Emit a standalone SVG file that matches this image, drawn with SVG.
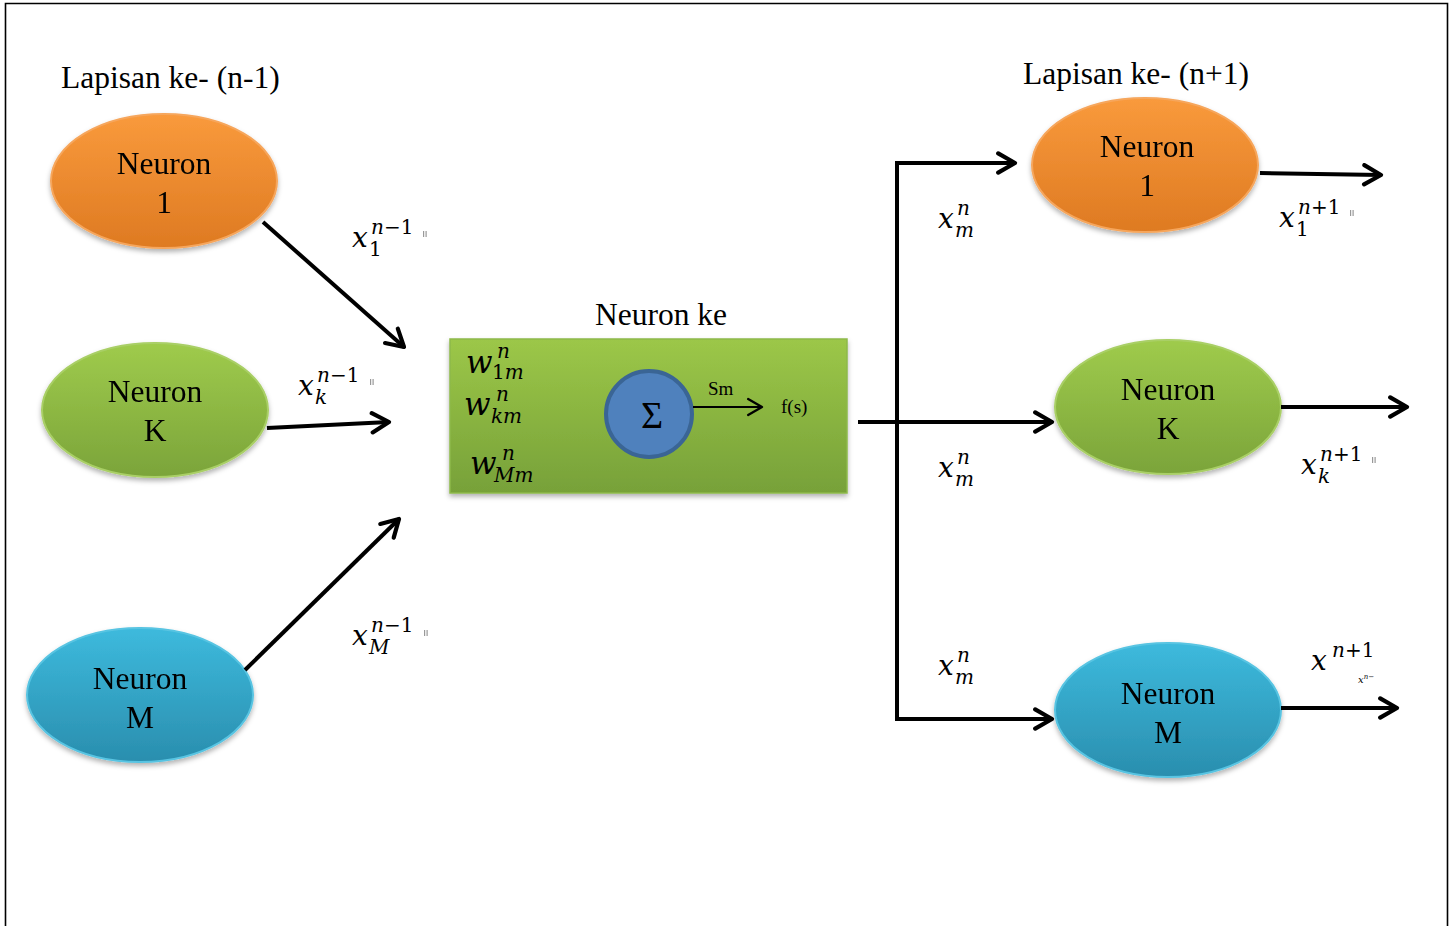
<svg xmlns="http://www.w3.org/2000/svg" width="1455" height="926" viewBox="0 0 1455 926">
  <style>
    .lbl { font-family: "Liberation Serif", "Times New Roman", serif; font-size: 31.5px; fill: #000; }
    .nt { font-family: "Liberation Serif", "Times New Roman", serif; font-size: 31.5px; fill: #000; text-anchor: middle; }
    .sm { font-family: "Liberation Serif", "Times New Roman", serif; font-size: 19px; fill: #000; }
    .m { font-family: "DejaVu Serif", "Liberation Serif", serif; font-style: italic; fill: #000; }
    .up { font-style: normal; }
    .wire { fill: none; stroke: #000; stroke-width: 4; }
    .thin { fill: none; stroke: #000; stroke-width: 2.2; }
    .tick { fill: #999; }
  </style>
  <defs>
    <linearGradient id="gOrange" x1="0" y1="0" x2="0" y2="1">
      <stop offset="0" stop-color="#F99A3C"/>
      <stop offset="1" stop-color="#DE7A22"/>
    </linearGradient>
    <linearGradient id="gGreen" x1="0" y1="0" x2="0" y2="1">
      <stop offset="0" stop-color="#9FCB4C"/>
      <stop offset="1" stop-color="#7BA43A"/>
    </linearGradient>
    <linearGradient id="gBlue" x1="0" y1="0" x2="0" y2="1">
      <stop offset="0" stop-color="#3DBADD"/>
      <stop offset="1" stop-color="#2A8EAE"/>
    </linearGradient>
    <linearGradient id="gBox" x1="0" y1="0" x2="0" y2="1">
      <stop offset="0" stop-color="#9CC748"/>
      <stop offset="1" stop-color="#77A139"/>
    </linearGradient>
    <filter id="shadow" x="-10%" y="-10%" width="120%" height="130%">
      <feDropShadow dx="0" dy="3" stdDeviation="2.5" flood-color="#000" flood-opacity="0.3"/>
    </filter>
    <marker id="arr" viewBox="0 0 20 20" refX="17" refY="10" markerWidth="6" markerHeight="6" markerUnits="strokeWidth" orient="auto">
      <path d="M3,2 L17,10 L3,18" fill="none" stroke="#000" stroke-width="3.5" stroke-linecap="round" stroke-linejoin="round"/>
    </marker>
    <marker id="arrThin" viewBox="0 0 20 20" refX="17" refY="10" markerWidth="9" markerHeight="9" markerUnits="strokeWidth" orient="auto">
      <path d="M3,2 L17,10 L3,18" fill="none" stroke="#000" stroke-width="2.4" stroke-linecap="round" stroke-linejoin="round"/>
    </marker>
  </defs>

  <rect width="1455" height="926" fill="#fff"/>
  <!-- page frame -->
  <path d="M5.5,926 V3.5 H1447.5 V926" fill="none" stroke="#000" stroke-width="1.6"/>

  <!-- layer captions -->
  <text class="lbl" x="61" y="88">Lapisan ke- (n-1)</text>
  <text class="lbl" x="1023" y="84">Lapisan ke- (n+1)</text>

  <!-- previous layer -->
  <g id="prev-neuron-1" filter="url(#shadow)">
    <ellipse cx="164" cy="181" rx="113" ry="67" fill="url(#gOrange)" stroke="#F6A65C" stroke-width="2"/>
    <text class="nt" x="164" y="174">Neuron</text>
    <text class="nt" x="164" y="213">1</text>
  </g>
  <g id="prev-neuron-k" filter="url(#shadow)">
    <ellipse cx="155" cy="410" rx="113" ry="67" fill="url(#gGreen)" stroke="#A9CF66" stroke-width="2"/>
    <text class="nt" x="155" y="402">Neuron</text>
    <text class="nt" x="155" y="441">K</text>
  </g>
  <g id="prev-neuron-m" filter="url(#shadow)">
    <ellipse cx="140" cy="695" rx="113" ry="67" fill="url(#gBlue)" stroke="#58C4E2" stroke-width="2"/>
    <text class="nt" x="140" y="689">Neuron</text>
    <text class="nt" x="140" y="728">M</text>
  </g>

  <!-- central neuron -->
  <text class="lbl" x="595" y="325">Neuron ke</text>
  <g id="neuron-m">
    <rect x="450" y="339" width="397" height="154" fill="url(#gBox)" stroke="#8DB94A" stroke-width="1.5" filter="url(#shadow)"/>
    <text class="m" x="466" y="373" font-size="31">w</text>
    <text class="m" x="497" y="358" font-size="20">n</text>
    <text class="m" x="492" y="379" font-size="20"><tspan class="up">1</tspan>m</text>
    <text class="m" x="464" y="415" font-size="31">w</text>
    <text class="m" x="496" y="401" font-size="20">n</text>
    <text class="m" x="491" y="423" font-size="20">km</text>
    <text class="m" x="470" y="474" font-size="31">w</text>
    <text class="m" x="502" y="460" font-size="20">n</text>
    <text class="m" x="494" y="482" font-size="20">Mm</text>
    <circle cx="649" cy="414" r="43" fill="#4F81BD" stroke="#3A6595" stroke-width="4"/>
    <text x="652" y="428" style="font-family:'Liberation Serif',serif;font-size:38px;text-anchor:middle;fill:#000">Σ</text>
    <line class="thin" x1="693" y1="407" x2="762" y2="407" marker-end="url(#arrThin)"/>
    <text class="sm" x="708" y="395">Sm</text>
    <text class="sm" x="781" y="413">f(s)</text>
  </g>

  <!-- next layer -->
  <g id="next-neuron-1" filter="url(#shadow)">
    <ellipse cx="1145" cy="165" rx="113" ry="67" fill="url(#gOrange)" stroke="#F6A65C" stroke-width="2"/>
    <text class="nt" x="1147" y="157">Neuron</text>
    <text class="nt" x="1147" y="196">1</text>
  </g>
  <g id="next-neuron-k" filter="url(#shadow)">
    <ellipse cx="1168" cy="407" rx="113" ry="67" fill="url(#gGreen)" stroke="#A9CF66" stroke-width="2"/>
    <text class="nt" x="1168" y="400">Neuron</text>
    <text class="nt" x="1168" y="439">K</text>
  </g>
  <g id="next-neuron-m" filter="url(#shadow)">
    <ellipse cx="1168" cy="710" rx="113" ry="67" fill="url(#gBlue)" stroke="#58C4E2" stroke-width="2"/>
    <text class="nt" x="1168" y="704">Neuron</text>
    <text class="nt" x="1168" y="743">M</text>
  </g>

  <!-- connectors -->
  <g id="connectors">
    <line class="wire" x1="263" y1="222" x2="404" y2="347" marker-end="url(#arr)"/>
    <line class="wire" x1="267" y1="428" x2="389" y2="422" marker-end="url(#arr)"/>
    <line class="wire" x1="245" y1="670" x2="399" y2="519" marker-end="url(#arr)"/>
    <line class="wire" x1="858" y1="422" x2="1052" y2="422" marker-end="url(#arr)"/>
    <path class="wire" d="M897,162 V719"/>
    <line class="wire" x1="895" y1="163" x2="1015" y2="163" marker-end="url(#arr)"/>
    <line class="wire" x1="895" y1="719" x2="1052" y2="719" marker-end="url(#arr)"/>
    <line class="wire" x1="1260" y1="173" x2="1381" y2="175" marker-end="url(#arr)"/>
    <line class="wire" x1="1281" y1="407" x2="1407" y2="407" marker-end="url(#arr)"/>
    <line class="wire" x1="1281" y1="708" x2="1397" y2="708" marker-end="url(#arr)"/>
  </g>

  <!-- signal labels -->
  <g id="signal-labels">
    <text class="m" x="352" y="247" font-size="28">x</text>
    <text class="m" x="371" y="234" font-size="20">n<tspan class="up">−1</tspan></text>
    <text class="m" x="369" y="256" font-size="20"><tspan class="up">1</tspan></text>
    <rect class="tick" x="423" y="231" width="1.2" height="6"/><rect class="tick" x="425.5" y="231" width="1.2" height="6"/>

    <text class="m" x="298" y="395" font-size="28">x</text>
    <text class="m" x="317" y="382" font-size="20">n<tspan class="up">−1</tspan></text>
    <text class="m" x="315" y="404" font-size="20">k</text>
    <rect class="tick" x="370" y="379" width="1.2" height="6"/><rect class="tick" x="372.5" y="379" width="1.2" height="6"/>

    <text class="m" x="352" y="645" font-size="28">x</text>
    <text class="m" x="371" y="632" font-size="20">n<tspan class="up">−1</tspan></text>
    <text class="m" x="369" y="654" font-size="20">M</text>
    <rect class="tick" x="424" y="630" width="1.2" height="6"/><rect class="tick" x="426.5" y="630" width="1.2" height="6"/>

    <text class="m" x="938" y="228" font-size="28">x</text>
    <text class="m" x="957" y="215" font-size="20">n</text>
    <text class="m" x="955" y="237" font-size="20">m</text>
    <text class="m" x="938" y="477" font-size="28">x</text>
    <text class="m" x="957" y="464" font-size="20">n</text>
    <text class="m" x="955" y="486" font-size="20">m</text>
    <text class="m" x="938" y="675" font-size="28">x</text>
    <text class="m" x="957" y="662" font-size="20">n</text>
    <text class="m" x="955" y="684" font-size="20">m</text>

    <text class="m" x="1279" y="227" font-size="28">x</text>
    <text class="m" x="1298" y="214" font-size="20">n<tspan class="up">+1</tspan></text>
    <text class="m" x="1296" y="236" font-size="20"><tspan class="up">1</tspan></text>
    <rect class="tick" x="1350" y="210" width="1.2" height="6"/><rect class="tick" x="1352.5" y="210" width="1.2" height="6"/>

    <text class="m" x="1301" y="474" font-size="28">x</text>
    <text class="m" x="1320" y="461" font-size="20">n<tspan class="up">+1</tspan></text>
    <text class="m" x="1318" y="483" font-size="20">k</text>
    <rect class="tick" x="1372" y="457" width="1.2" height="6"/><rect class="tick" x="1374.5" y="457" width="1.2" height="6"/>

    <text class="m" x="1311" y="670" font-size="28">x</text>
    <text class="m" x="1332" y="657" font-size="20">n<tspan class="up">+1</tspan></text>
    <text class="m" x="1358" y="683" font-size="10" fill="#888">x<tspan dy="-4" font-size="7">n−</tspan></text>
  </g>
</svg>
